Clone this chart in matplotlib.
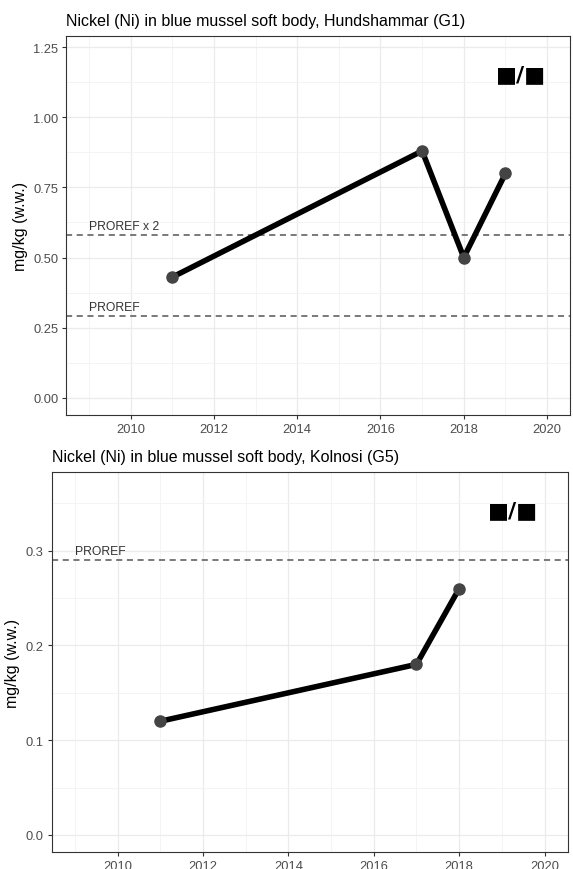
import matplotlib
matplotlib.use("Agg")
import matplotlib.pyplot as plt
import numpy as np

# Data
years_g1 = [2011, 2017, 2018, 2019]
ni_g1 = [0.43, 0.88, 0.50, 0.80]
proref_g1 = 0.29
proref2_g1 = 0.58

years_g5 = [2011, 2017, 2018]
ni_g5 = [0.12, 0.18, 0.26]
proref_g5 = 0.29

title_g1 = "Nickel (Ni) in blue mussel soft body, Hundshammar (G1)"
title_g5 = "Nickel (Ni) in blue mussel soft body, Kolnosi (G5)"
ylabel = "mg/kg (w.w.)"
xticks = [2010, 2012, 2014, 2016, 2018, 2020]
xminor = [2009, 2011, 2013, 2015, 2017, 2019]

plt.rcParams['font.family'] = ['Liberation Sans', 'DejaVu Sans']

W, H = 573, 870
fig = plt.figure(figsize=(W/100, H/100), dpi=100)

def style(ax, yticks, yfmt, yminor, xlim, ylim):
    ax.set_xlim(*xlim)
    ax.set_ylim(*ylim)
    ax.set_xticks(xticks)
    ax.set_xticklabels([str(x) for x in xticks])
    ax.set_xticks(xminor, minor=True)
    ax.set_yticks(yticks)
    ax.set_yticklabels([yfmt.format(v) for v in yticks])
    ax.set_yticks(yminor, minor=True)
    ax.grid(True, which='major', color='#EBEBEB', lw=0.9, zorder=0)
    ax.grid(True, which='minor', color='#F3F3F3', lw=0.6, zorder=0)
    ax.set_axisbelow(True)
    for s in ax.spines.values():
        s.set_color('#333333')
        s.set_linewidth(0.8)
    ax.tick_params(which='major', length=3, width=0.8, color='#333333', labelcolor='#4D4D4D',
                   labelsize=9.3, pad=2.5)
    ax.tick_params(which='minor', length=0)
    ax.set_ylabel(ylabel, fontsize=11.5, color='black')

xlim = (2008.45, 2020.55)

# Top panel
ax1 = fig.add_axes([66/W, 1-416/H, (570-66)/W, (416-37)/H])
style(ax1, [0.0, 0.25, 0.5, 0.75, 1.0, 1.25], "{:.2f}", [0.125, 0.375, 0.625, 0.875, 1.125], xlim, (-0.0615, 1.29))
ax1.axhline(proref2_g1, color='#555555', ls=(0, (4, 3)), lw=1.1, zorder=2)
ax1.axhline(proref_g1, color='#555555', ls=(0, (4, 3)), lw=1.1, zorder=2)
ax1.text(2009, proref2_g1 + 0.012, "PROREF x 2", fontsize=8.7, color='#333333', va='bottom', ha='left')
ax1.text(2009, proref_g1 + 0.012, "PROREF", fontsize=8.7, color='#333333', va='bottom', ha='left')
ax1.plot(years_g1, ni_g1, color='black', lw=4, zorder=3, solid_capstyle='round')
ax1.plot(years_g1, ni_g1, 'o', color='#444444', ms=8, zorder=4, mec='#444444')
ax1.text(0.903, 0.90, "■/■", transform=ax1.transAxes, fontsize=16, fontweight='bold',
         ha='center', va='center', family=['DejaVu Sans'])
ax1.set_title(title_g1, loc='left', fontsize=11.5, pad=8)

# Bottom panel
ax2 = fig.add_axes([51.5/W, 1-853/H, (568-51.5)/W, (853-473)/H])
style(ax2, [0.0, 0.1, 0.2, 0.3], "{:.1f}", [0.05, 0.15, 0.25, 0.35], xlim, (-0.018, 0.383))
ax2.axhline(proref_g5, color='#555555', ls=(0, (4, 3)), lw=1.1, zorder=2)
ax2.text(2009, proref_g5 + 0.003, "PROREF", fontsize=8.7, color='#333333', va='bottom', ha='left')
ax2.plot(years_g5, ni_g5, color='black', lw=4, zorder=3, solid_capstyle='round')
ax2.plot(years_g5, ni_g5, 'o', color='#444444', ms=8, zorder=4, mec='#444444')
ax2.text(0.893, 0.90, "■/■", transform=ax2.transAxes, fontsize=16, fontweight='bold',
         ha='center', va='center', family=['DejaVu Sans'])
ax2.set_title(title_g5, loc='left', fontsize=11.5, pad=8)

fig.savefig("out.png", dpi=100)
